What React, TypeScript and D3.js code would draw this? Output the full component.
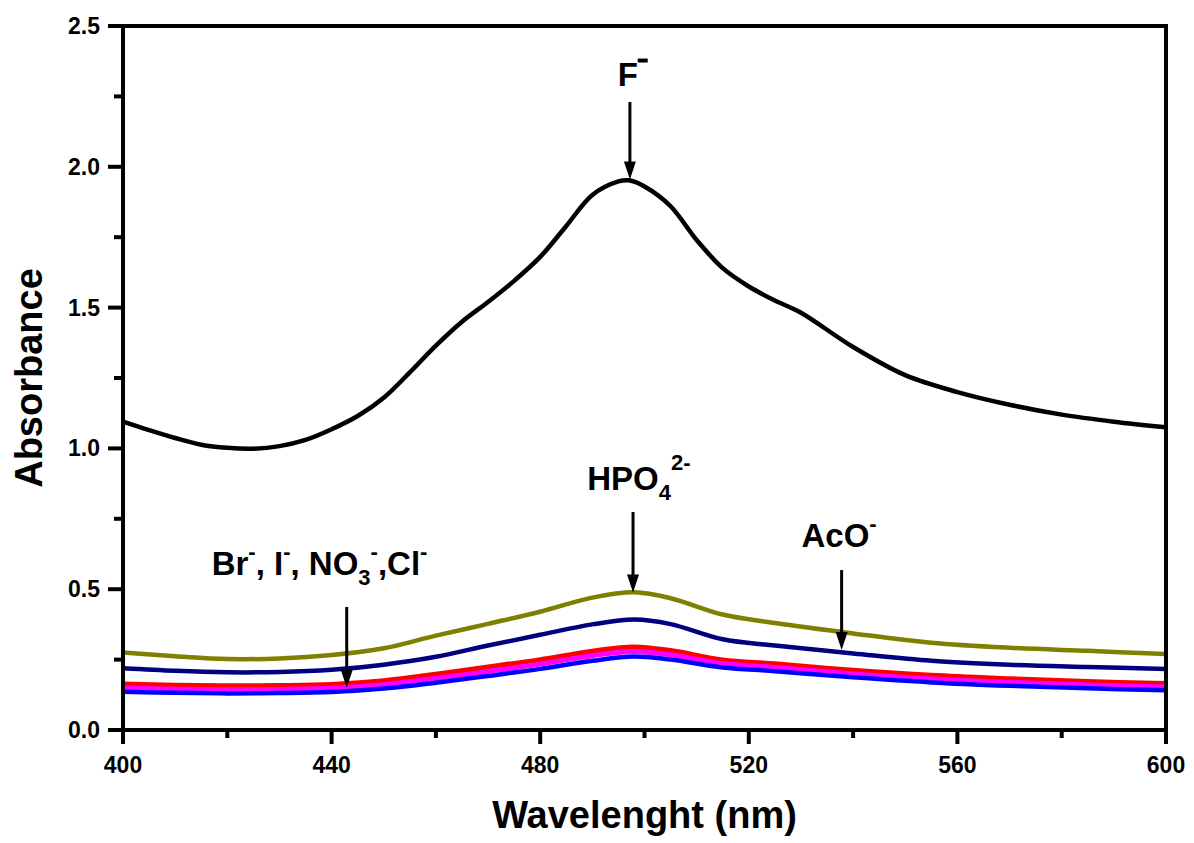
import React from "react";
import * as d3 from "d3";

const blackX = [400,405,410,415,420,425,430,435,440,445,450,455,460,465,470,475,480,485,490,495,497,500,505,510,515,520,525,530,540,550,560,570,580,590,600];
const blackF = [1.095,1.065,1.037,1.013,1.002,0.999,1.008,1.03,1.068,1.115,1.18,1.27,1.365,1.45,1.52,1.595,1.68,1.79,1.9,1.948,1.952,1.93,1.86,1.74,1.64,1.575,1.525,1.482,1.36,1.26,1.2,1.155,1.12,1.095,1.075];

const lowX = [400,410,420,430,440,450,460,470,480,490,498,505,515,525,540,555,570,585,600];
const oliveHPO4 = [0.275,0.262,0.252,0.254,0.266,0.29,0.335,0.377,0.42,0.47,0.489,0.468,0.41,0.38,0.343,0.31,0.292,0.281,0.27];
const navyAcO = [0.219,0.21,0.205,0.206,0.214,0.232,0.26,0.3,0.338,0.375,0.392,0.376,0.322,0.3,0.272,0.246,0.232,0.224,0.217];
const redSeries = [0.163,0.159,0.157,0.158,0.162,0.175,0.198,0.224,0.25,0.28,0.295,0.282,0.249,0.235,0.212,0.194,0.182,0.172,0.165];
const magentaSeries = [0.149,0.145,0.143,0.144,0.148,0.161,0.183,0.208,0.234,0.264,0.279,0.267,0.236,0.222,0.199,0.181,0.169,0.16,0.153];
const blueSeries = [0.136,0.132,0.13,0.131,0.135,0.147,0.168,0.192,0.217,0.246,0.261,0.25,0.222,0.209,0.187,0.169,0.157,0.148,0.141];

const xTicks = [400,440,480,520,560,600];
const xMinor = [420,460,500,540,580];
const yTicks = [0.0,0.5,1.0,1.5,2.0,2.5];
const yMinor = [0.25,0.75,1.25,1.75,2.25];

const FONT = "'Liberation Sans', Arial, sans-serif";

export default function App() {
  const W = 1194, H = 843;
  const left = 123, right = 1166, top = 26, bottom = 730;
  const x = d3.scaleLinear().domain([400, 600]).range([left, right]);
  const y = d3.scaleLinear().domain([0, 2.5]).range([bottom, top]);

  const mk = (xs: number[], ys: number[]) =>
    d3.line<number>().x((_, i) => x(xs[i])).y((d) => y(d)).curve(d3.curveCatmullRom.alpha(0.5))(ys) || "";

  const series = [
    { xs: lowX, ys: oliveHPO4, color: "#7f7f00", w: 4.5 },
    { xs: lowX, ys: navyAcO, color: "#000080", w: 4.5 },
    { xs: lowX, ys: redSeries, color: "#ff0000", w: 5 },
    { xs: lowX, ys: magentaSeries, color: "#ff00ff", w: 5 },
    { xs: lowX, ys: blueSeries, color: "#0000ff", w: 4.5 },
    { xs: blackX, ys: blackF, color: "#000000", w: 4.5 },
  ];

  const arrows = [
    { nm: 497.2, from: 2.23, to: 1.955 },
    { nm: 497.8, from: 0.774, to: 0.488 },
    { nm: 537.8, from: 0.568, to: 0.284 },
    { nm: 442.9, from: 0.437, to: 0.15 },
  ];

  const arrow = (a: { nm: number; from: number; to: number }, i: number) => {
    const ax = x(a.nm), y0 = y(a.from), y1 = y(a.to);
    const hl = 18, hw = 6;
    return (
      <g key={"a" + i}>
        <line x1={ax} x2={ax} y1={y0} y2={y1 - hl + 2} stroke="#000" strokeWidth={3} />
        <path d={`M${ax - hw},${y1 - hl} L${ax + hw},${y1 - hl} L${ax},${y1} Z`} fill="#000" />
      </g>
    );
  };

  const fs = 33;
  return (
    <svg width={W} height={H} style={{ position: "absolute", left: 0, top: 0, background: "#fff" }}>
      <rect x={0} y={0} width={W} height={H} fill="#fff" />
      {series.map((s, i) => (
        <path key={i} d={mk(s.xs, s.ys)} fill="none" stroke={s.color} strokeWidth={s.w} strokeLinejoin="round" />
      ))}
      <rect x={left} y={top} width={right - left} height={bottom - top} fill="none" stroke="#000" strokeWidth={4} />
      {yTicks.map((t) => (
        <g key={"y" + t}>
          <line x1={left - 15} x2={left} y1={y(t)} y2={y(t)} stroke="#000" strokeWidth={4} />
          <text x={left - 23} y={y(t) + 8} textAnchor="end" fontFamily={FONT} fontWeight="bold" fontSize={23}>{t.toFixed(1)}</text>
        </g>
      ))}
      {yMinor.map((t) => (
        <line key={"ym" + t} x1={left - 9} x2={left} y1={y(t)} y2={y(t)} stroke="#000" strokeWidth={4} />
      ))}
      {xTicks.map((t) => (
        <g key={"x" + t}>
          <line x1={x(t)} x2={x(t)} y1={bottom} y2={bottom + 14} stroke="#000" strokeWidth={4} />
          <text x={x(t)} y={bottom + 43} textAnchor="middle" fontFamily={FONT} fontWeight="bold" fontSize={23}>{t}</text>
        </g>
      ))}
      {xMinor.map((t) => (
        <line key={"xm" + t} x1={x(t)} x2={x(t)} y1={bottom} y2={bottom + 8} stroke="#000" strokeWidth={4} />
      ))}
      <text x={(left + right) / 2} y={828} textAnchor="middle" fontFamily={FONT} fontWeight="bold" fontSize={38}>Wavelenght (nm)</text>
      <text transform={`translate(42,${(top + bottom) / 2}) rotate(-90)`} textAnchor="middle" fontFamily={FONT} fontWeight="bold" fontSize={38}>Absorbance</text>
      {arrows.map(arrow)}
      <text x={x(496.8)} y={y(2.287)} fontFamily={FONT} fontWeight="bold" fontSize={fs} textAnchor="middle">F</text>
      <rect x={x(498.7)} y={y(2.285) - 28} width={10} height={4} fill="#000" />
      <text x={x(489)} y={y(0.852)} fontFamily={FONT} fontWeight="bold" fontSize={fs}>
        HPO
        <tspan fontSize={22} dy={10}>4</tspan>
        <tspan fontSize={22} dy={-30}>2-</tspan>
      </text>
      <text x={x(530.1)} y={y(0.65)} fontFamily={FONT} fontWeight="bold" fontSize={fs}>
        AcO
        <tspan fontSize={22} dy={-16}>-</tspan>
      </text>
      <text x={x(417)} y={y(0.55)} fontFamily={FONT} fontWeight="bold" fontSize={fs}>
        Br
        <tspan fontSize={22} dy={-16}>-</tspan>
        <tspan dy={16}>, I</tspan>
        <tspan fontSize={22} dy={-16}>-</tspan>
        <tspan dy={16}>, NO</tspan>
        <tspan fontSize={22} dy={10}>3</tspan>
        <tspan fontSize={22} dy={-26}>-</tspan>
        <tspan dy={16}>,Cl</tspan>
        <tspan fontSize={22} dy={-16}>-</tspan>
      </text>
    </svg>
  );
}
